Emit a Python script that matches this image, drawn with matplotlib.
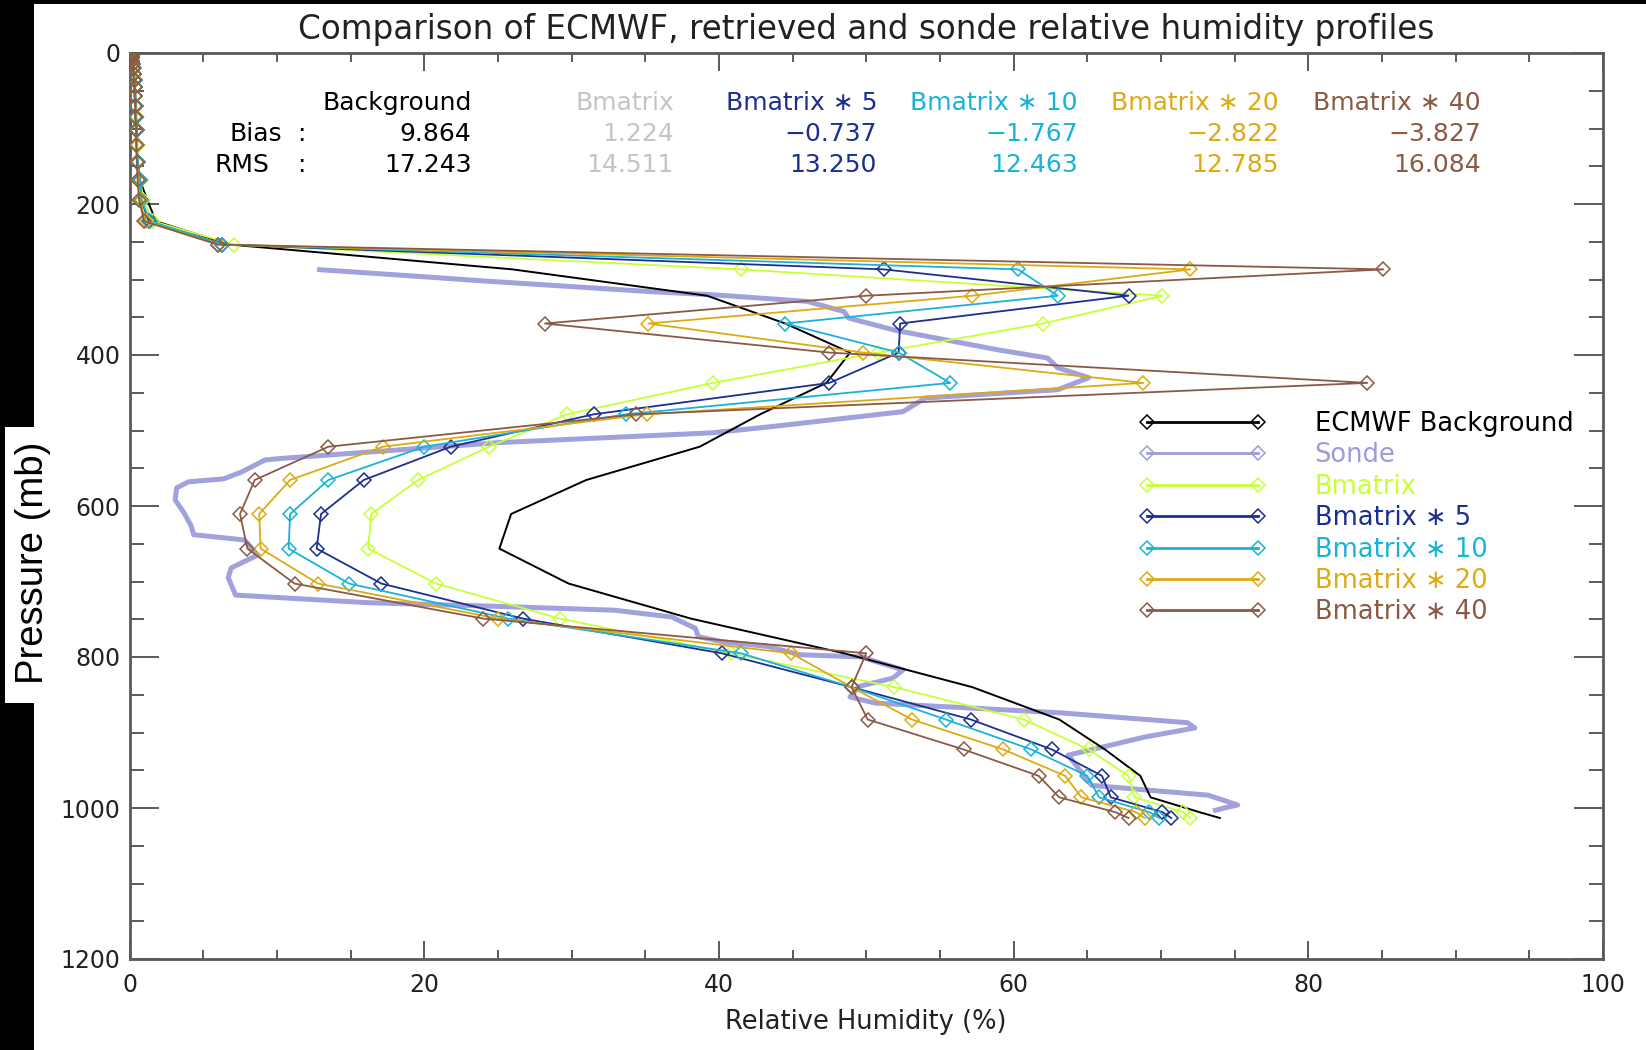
import numpy as np
import matplotlib.pyplot as plt
from matplotlib.lines import Line2D
from matplotlib.patches import Rectangle

plt.rcParams['font.family'] = ['DejaVu Sans']

W, H = 1646, 1050

# --------------------------------
# Data (RH in %, pressure in mb)
# --------------------------------
levels = [0.1, 0.29, 0.69, 1.42, 2.611, 4.407, 6.95, 10.37, 14.81, 20.4,
          27.26, 35.51, 45.29, 56.73, 69.97, 85.18, 102.05, 122.04, 143.84,
          167.95, 194.36, 222.94, 253.71, 286.6, 321.5, 358.28, 396.81,
          436.95, 478.54, 521.46, 565.54, 610.6, 656.43, 702.73, 749.12,
          795.09, 839.95, 882.8, 922.46, 957.44, 985.88, 1005.43, 1013.25]

rh_background = [0.2, 0.2, 0.2, 0.2, 0.2, 0.2, 0.2, 0.2, 0.25, 0.25,
                 0.3, 0.3, 0.35, 0.35, 0.4, 0.4, 0.45, 0.5, 0.55, 0.7,
                 1.2, 1.8, 6.8, 26.0, 39.2, 44.5, 48.9, 47.3, 42.8, 38.7,
                 31.0, 25.9, 25.1, 29.8, 38.1, 48.5, 57.2, 63.1, 66.2, 68.6,
                 69.3, 72.6, 74.0]

rh_bmatrix = [0.2, 0.2, 0.2, 0.2, 0.2, 0.2, 0.2, 0.2, 0.25, 0.3,
              0.3, 0.35, 0.4, 0.4, 0.45, 0.5, 0.5, 0.55, 0.6, 0.75,
              0.9, 1.6, 7.1, 41.5, 70.1, 62.0, 50.8, 39.6, 29.7, 24.4,
              19.6, 16.4, 16.2, 20.8, 29.2, 40.8, 51.9, 60.7, 65.1, 67.8,
              68.2, 71.5, 72.0]

rh_bmatrix5 = [0.2, 0.2, 0.2, 0.2, 0.2, 0.2, 0.2, 0.2, 0.25, 0.3,
               0.3, 0.35, 0.35, 0.4, 0.45, 0.45, 0.5, 0.5, 0.55, 0.7,
               0.8, 1.3, 6.3, 51.2, 67.8, 52.3, 52.2, 47.5, 31.5, 21.8,
               15.9, 13.0, 12.7, 17.1, 26.7, 40.2, 49.0, 57.1, 62.6, 66.0,
               66.6, 70.1, 70.7]

rh_bmatrix10 = [0.2, 0.2, 0.2, 0.2, 0.2, 0.2, 0.2, 0.2, 0.25, 0.3,
                0.3, 0.35, 0.35, 0.4, 0.45, 0.45, 0.5, 0.5, 0.55, 0.7,
                0.8, 1.4, 6.3, 60.3, 63.0, 44.5, 52.2, 55.7, 33.7, 20.0,
                13.5, 10.9, 10.8, 14.9, 25.7, 41.5, 49.0, 55.4, 61.2, 65.0,
                65.8, 69.2, 69.9]

rh_bmatrix20 = [0.2, 0.2, 0.2, 0.2, 0.2, 0.2, 0.2, 0.2, 0.25, 0.25,
                0.3, 0.3, 0.35, 0.35, 0.4, 0.4, 0.45, 0.5, 0.5, 0.6,
                0.7, 1.1, 6.0, 72.0, 57.2, 35.2, 49.8, 68.8, 35.1, 17.2,
                10.9, 8.8, 8.9, 12.8, 25.0, 44.9, 49.0, 53.1, 59.3, 63.5,
                64.6, 68.3, 68.9]

rh_bmatrix40 = [0.2, 0.2, 0.2, 0.2, 0.2, 0.2, 0.2, 0.2, 0.25, 0.25,
                0.3, 0.3, 0.35, 0.35, 0.4, 0.4, 0.45, 0.45, 0.5, 0.55,
                0.65, 1.0, 6.0, 85.1, 50.0, 28.2, 47.5, 84.0, 34.4, 13.5,
                8.5, 7.5, 8.0, 11.2, 24.0, 50.0, 49.0, 50.1, 56.6, 61.7,
                63.1, 66.9, 67.8]

sonde_p = [287, 296, 302, 316, 320.5, 329, 342.6, 351, 367, 393,
           404, 417, 430, 446, 457, 475, 495, 503, 516, 537,
           539, 543, 555, 564, 568, 576, 592, 609, 627, 638,
           645, 665, 682, 695, 718, 728, 733, 738, 747, 762,
           773, 780, 786, 797, 800, 804, 817, 828, 839, 853,
           861, 868, 874, 887, 894, 906, 919, 930, 970, 976,
           983, 996, 1000, 1003]
sonde_rh = [12.9, 19.7, 24.1, 35.3, 39.8, 46.0, 48.5, 48.8, 51.9, 58.9,
            62.3, 63.0, 65.1, 63.0, 54.0, 52.5, 43.5, 39.6, 25.1, 10.3,
            9.2, 8.8, 7.6, 6.4, 4.0, 3.2, 3.1, 3.7, 4.2, 4.35,
            7.8, 8.7, 6.9, 6.7, 7.2, 16.1, 25.1, 32.9, 36.8, 38.4,
            38.6, 40.3, 43.3, 45.5, 49.8, 50.3, 52.5, 51.8, 49.5, 48.9,
            50.6, 57.5, 63.2, 71.8, 72.3, 68.9, 66.1, 63.7, 65.3, 68.9,
            73.2, 75.2, 74.3, 73.7]

stat_names = ["Background", "Bmatrix", "Bmatrix \u2217 5", "Bmatrix \u2217 10",
              "Bmatrix \u2217 20", "Bmatrix \u2217 40"]
stat_bias = ["9.864", "1.224", "\u22120.737", "\u22121.767", "\u22122.822", "\u22123.827"]
stat_rms = ["17.243", "14.511", "13.250", "12.463", "12.785", "16.084"]
stat_colors = ["black", "#c4c4c4", "#1c2f8f", "#19b3d9", "#deaa12", "#8a5a45"]

legend_labels = ["ECMWF Background", "Sonde", "Bmatrix", "Bmatrix \u2217 5",
                 "Bmatrix \u2217 10", "Bmatrix \u2217 20", "Bmatrix \u2217 40"]
legend_colors = ["black", "#9c9cdc", "#c8ff35", "#1c2f8f", "#19b3d9",
                 "#deaa12", "#8a5a45"]


def fx(px):
    return px / W


def fy(py):
    return 1 - py / H


# --------------------------------
# Figure with black frame around a white page
# --------------------------------
fig = plt.figure(figsize=(W / 100, H / 100), dpi=100, facecolor="black")
fig.patches.append(Rectangle((fx(34), 0), 1 - fx(34), fy(4), transform=fig.transFigure,
                             facecolor="white", edgecolor="none", zorder=-10))
fig.patches.append(Rectangle((fx(4.6), fy(703)), fx(34 - 4.6), (703 - 427) / H,
                             transform=fig.transFigure, facecolor="white",
                             edgecolor="none", zorder=-10))

ax = fig.add_axes([fx(129.5), fy(959), fx(1603 - 129.5), (959 - 53) / H])
ax.set_facecolor("white")

# --------------------------------
# Profiles
# --------------------------------
mk = dict(marker="D", ms=7, mfc="none", mew=1.1)
ax.plot(rh_background, levels, color="black", lw=1.4, zorder=3)
ax.plot(sonde_rh, sonde_p, color=legend_colors[1], lw=3.6, alpha=0.95,
        solid_joinstyle="round", zorder=2)
series = [rh_bmatrix, rh_bmatrix5, rh_bmatrix10, rh_bmatrix20, rh_bmatrix40]
for vals, c in zip(series, legend_colors[2:]):
    ax.plot(vals, levels, color=c, lw=1.3, mec=c, zorder=4, **mk)

ax.set_xlim(0, 100)
ax.set_ylim(1200, 0)
ax.set_xticks(np.arange(0, 101, 20))
ax.set_xticks(np.arange(0, 101, 5), minor=True)
ax.set_yticks(np.arange(0, 1201, 200))
ax.set_yticks(np.arange(0, 1201, 50), minor=True)

axis_col = "#5a5a5a"
for s in ax.spines.values():
    s.set_color(axis_col)
    s.set_linewidth(2)
ax.tick_params(axis="both", which="both", direction="in", colors=axis_col,
               labelcolor="#222222", width=1.4, top=True, right=True)
ax.tick_params(axis="x", which="major", length=13, labelsize=17, pad=10)
ax.tick_params(axis="x", which="minor", length=6.5)
ax.tick_params(axis="y", which="major", length=21, labelsize=17, pad=6.5)
ax.tick_params(axis="y", which="minor", length=10)

# --------------------------------
# Texts
# --------------------------------
fig.text(fx(866), fy(39), "Comparison of ECMWF, retrieved and sonde relative humidity profiles",
         ha="center", va="baseline", fontsize=23.5, color="#222222")
fig.text(fx(866), fy(1029), "Relative Humidity (%)", ha="center", va="baseline",
         fontsize=18.5, color="#222222")
fig.text(fx(33), fy(563), "Pressure (mb)", rotation=90, ha="center", va="center",
         fontsize=27.5, family="Liberation Sans", color="black")

fs = 18
col_right = [471.6, 674, 877, 1078, 1279, 1481]
for xr, name, b, r, c in zip(col_right, stat_names, stat_bias, stat_rms, stat_colors):
    fig.text(fx(xr), fy(110), name, ha="right", va="baseline", fontsize=fs, color=c)
    fig.text(fx(xr), fy(141), b, ha="right", va="baseline", fontsize=fs, color=c)
    fig.text(fx(xr), fy(172), r, ha="right", va="baseline", fontsize=fs, color=c)
fig.text(fx(282), fy(141), "Bias", ha="right", va="baseline", fontsize=fs, color="black")
fig.text(fx(269), fy(172), "RMS", ha="right", va="baseline", fontsize=fs, color="black")
fig.text(fx(301), fy(141), ":", ha="center", va="baseline", fontsize=fs, color="black")
fig.text(fx(301), fy(172), ":", ha="center", va="baseline", fontsize=fs, color="black")

# --------------------------------
# Legend (diamonds at both ends)
# --------------------------------
handles = [Line2D([], [], color=c, lw=2.0, marker="D", ms=7, mfc="none", mec=c, mew=1.1)
           for c in legend_colors]
leg = ax.legend(handles, legend_labels, loc="upper left",
                bbox_to_anchor=(fx(1139), fy(411)), bbox_transform=fig.transFigure,
                numpoints=2, frameon=False, fontsize=18.5, handlelength=4.94,
                handletextpad=1.9, labelspacing=0.21, borderpad=0, borderaxespad=0)
for t, c in zip(leg.get_texts(), legend_colors):
    t.set_color(c)

fig.savefig("out.png", dpi=100, facecolor=fig.get_facecolor())
